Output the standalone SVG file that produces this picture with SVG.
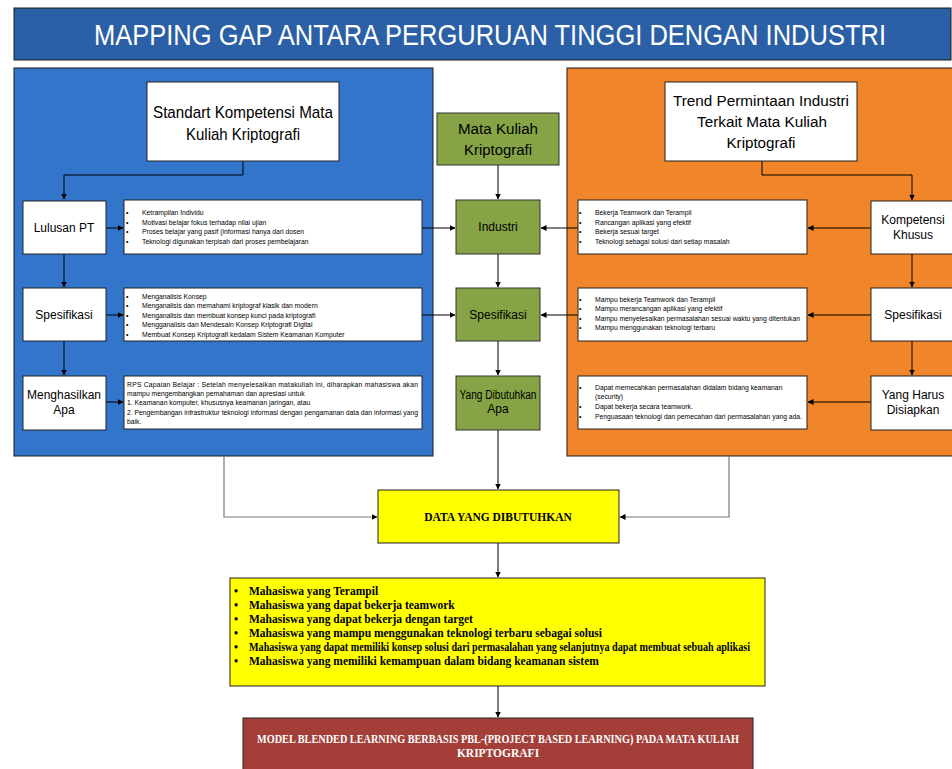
<svg xmlns="http://www.w3.org/2000/svg" width="952" height="769" viewBox="0 0 952 769">
<defs>
<marker id="ah" markerWidth="6" markerHeight="6" refX="5.5" refY="3" orient="auto" markerUnits="userSpaceOnUse">
<path d="M0,0 L6,3 L0,6 Z" fill="#000"/>
</marker>
<style>
.panel{stroke:#1a1a1a;stroke-width:1}
.wb{fill:#fff;stroke:#222;stroke-width:1}
.gb{fill:#86A445;stroke:#333;stroke-width:1}
.big{font-family:"Liberation Sans",Arial,sans-serif;fill:#000;text-anchor:middle}
.lbl{font-family:"Liberation Sans",Arial,sans-serif;font-size:12px;fill:#000;text-anchor:middle}
.sm{font-family:"Liberation Sans",Arial,sans-serif;font-size:6.8px;fill:#000}
.bul{font-family:"Liberation Sans",Arial,sans-serif;font-size:7px;fill:#000}
.yt{font-family:"Liberation Serif","Times New Roman",serif;font-weight:bold;font-size:11.5px;fill:#000}
.con{fill:none;stroke:#000;stroke-width:1}
.gcon{fill:none;stroke:#7a7a7a;stroke-width:1.2}
</style>
</defs>
<rect width="952" height="769" fill="#fff"/>

<g id="title">
<rect x="14" y="8" width="937" height="52" fill="#2B5FA6" stroke="#1a1a1a" stroke-width="1"/>
<g transform="translate(490,45) scale(0.86,1)">
<text x="0" y="0" font-family="'Liberation Sans',Arial,sans-serif" font-size="29" fill="#fff" text-anchor="middle" textLength="921" lengthAdjust="spacingAndGlyphs">MAPPING GAP ANTARA PERGURUAN TINGGI DENGAN INDUSTRI</text>
</g>
</g>

<g id="panel-left">
<rect class="panel" x="14" y="68" width="419" height="388" fill="#3375CB"/>
</g>
<g id="panel-right">
<rect class="panel" x="567" y="68" width="390" height="388" fill="#F0852A"/>
</g>

<g id="connectors">
<polyline class="con" points="243,161 243,175 64,175 64,199" marker-end="url(#ah)"/>
<line class="con" x1="106" y1="228" x2="123" y2="228" marker-end="url(#ah)"/>
<line class="con" x1="422" y1="228" x2="455" y2="228" marker-end="url(#ah)"/>
<line class="con" x1="64" y1="254" x2="64" y2="287" marker-end="url(#ah)"/>
<line class="con" x1="106" y1="315" x2="123" y2="315" marker-end="url(#ah)"/>
<line class="con" x1="422" y1="315" x2="455" y2="315" marker-end="url(#ah)"/>
<line class="con" x1="64" y1="341" x2="64" y2="375" marker-end="url(#ah)"/>
<line class="con" x1="106" y1="402" x2="123" y2="402" marker-end="url(#ah)"/>

<line class="con" x1="498" y1="165" x2="498" y2="199" marker-end="url(#ah)"/>
<line class="con" x1="498" y1="254" x2="498" y2="287" marker-end="url(#ah)"/>
<line class="con" x1="498" y1="341" x2="498" y2="375" marker-end="url(#ah)"/>
<line class="con" x1="498" y1="430" x2="498" y2="489" marker-end="url(#ah)"/>

<polyline class="con" points="762,161 762,175 912,175 912,200" marker-end="url(#ah)"/>
<line class="con" x1="871" y1="228" x2="808" y2="228" marker-end="url(#ah)"/>
<line class="con" x1="578" y1="228" x2="541" y2="228" marker-end="url(#ah)"/>
<line class="con" x1="912" y1="254" x2="912" y2="287" marker-end="url(#ah)"/>
<line class="con" x1="871" y1="315" x2="808" y2="315" marker-end="url(#ah)"/>
<line class="con" x1="578" y1="315" x2="541" y2="315" marker-end="url(#ah)"/>
<line class="con" x1="912" y1="341" x2="912" y2="375" marker-end="url(#ah)"/>
<line class="con" x1="871" y1="402" x2="808" y2="402" marker-end="url(#ah)"/>

<polyline class="gcon" points="224,456 224,517 377,517" marker-end="url(#ah)"/>
<polyline class="gcon" points="729,456 729,517 620,517" marker-end="url(#ah)"/>
<line class="con" x1="498" y1="543" x2="498" y2="577" marker-end="url(#ah)"/>
<line class="con" x1="498" y1="686" x2="498" y2="717" marker-end="url(#ah)"/>
</g>

<g id="standart-kompetensi">
<rect class="wb" x="147" y="82" width="192" height="79"/>
<text class="big" font-size="17" x="243" y="118" textLength="180" lengthAdjust="spacingAndGlyphs">Standart Kompetensi Mata</text>
<text class="big" font-size="17" x="243" y="140" textLength="114" lengthAdjust="spacingAndGlyphs">Kuliah Kriptografi</text>
</g>

<g id="lulusan-pt">
<rect class="wb" x="23" y="201" width="83" height="53"/>
<text class="lbl" x="64" y="232">Lulusan PT</text>
</g>
<g id="left-list-1">
<rect class="wb" x="124" y="200" width="298" height="54"/>
<g class="bul"><text x="126" y="215">•</text><text x="126" y="225">•</text><text x="126" y="234">•</text><text x="126" y="244">•</text></g>
<text class="sm" x="142" y="215">Ketrampilan Individu</text>
<text class="sm" x="142" y="225">Motivasi belajar fokus terhadap nilai ujian</text>
<text class="sm" x="142" y="234">Proses belajar yang pasif (informasi hanya dari dosen</text>
<text class="sm" x="142" y="244">Teknologi digunakan terpisah dari proses pembelajaran</text>
</g>

<g id="spesifikasi-left">
<rect class="wb" x="23" y="288" width="83" height="53"/>
<text class="lbl" x="64" y="319">Spesifikasi</text>
</g>
<g id="left-list-2">
<rect class="wb" x="124" y="288" width="298" height="53"/>
<g class="bul"><text x="126" y="299">•</text><text x="126" y="308">•</text><text x="126" y="318">•</text><text x="126" y="327">•</text><text x="126" y="337">•</text></g>
<text class="sm" x="142" y="299">Menganalisis Konsep</text>
<text class="sm" x="142" y="308">Menganalisis dan memahami kriptograf klasik dan modern</text>
<text class="sm" x="142" y="318">Menganalisis dan membuat konsep kunci pada kriptografi</text>
<text class="sm" x="142" y="327">Mengganalisis dan Mendesain Konsep Kriptografi Digital</text>
<text class="sm" x="142" y="337">Membuat Konsep Kriptografi kedalam Sistem Keamanan Komputer</text>
</g>

<g id="menghasilkan-apa">
<rect class="wb" x="23" y="376" width="83" height="54"/>
<text class="lbl" x="64" y="399">Menghasilkan</text>
<text class="lbl" x="64" y="414">Apa</text>
</g>
<g id="left-text-3">
<rect class="wb" x="124" y="376" width="298" height="53"/>
<text class="sm" x="127" y="387" textLength="291" lengthAdjust="spacing">RPS Capaian Belajar : Setelah menyelesaikan matakuliah ini, diharapkan mahasiswa akan</text>
<text class="sm" x="127" y="396">mampu mengembangkan pemahaman dan apresiasi untuk</text>
<text class="sm" x="127" y="405">1. Keamanan komputer, khususnya keamanan jaringan, atau</text>
<text class="sm" x="127" y="415" textLength="291" lengthAdjust="spacing">2. Pengembangan infrastruktur teknologi informasi dengan pengamanan data dan informasi yang</text>
<text class="sm" x="127" y="424">baik.</text>
</g>

<g id="mata-kuliah">
<rect class="gb" x="437" y="113" width="122" height="52"/>
<text class="big" font-size="15.5" x="498" y="134" textLength="80" lengthAdjust="spacingAndGlyphs">Mata Kuliah</text>
<text class="big" font-size="15.5" x="498" y="155" textLength="68" lengthAdjust="spacingAndGlyphs">Kriptografi</text>
</g>
<g id="industri">
<rect class="gb" x="456" y="200" width="84" height="54"/>
<text class="lbl" x="498" y="231" font-size="11">Industri</text>
</g>
<g id="spesifikasi-center">
<rect class="gb" x="456" y="288" width="84" height="53"/>
<text class="lbl" x="498" y="319" font-size="11">Spesifikasi</text>
</g>
<g id="yang-dibutuhkan-apa">
<rect class="gb" x="456" y="376" width="84" height="54"/>
<text class="lbl" x="498" y="399" font-size="11" textLength="77" lengthAdjust="spacingAndGlyphs">Yang Dibutuhkan</text>
<text class="lbl" x="498" y="413" font-size="11">Apa</text>
</g>

<g id="trend-permintaan">
<rect class="wb" x="665" y="82" width="192" height="79"/>
<text class="big" font-size="15.5" x="761" y="106" textLength="176" lengthAdjust="spacingAndGlyphs">Trend Permintaan Industri</text>
<text class="big" font-size="15.5" x="762" y="127" textLength="130" lengthAdjust="spacingAndGlyphs">Terkait Mata Kuliah</text>
<text class="big" font-size="15.5" x="761" y="148" textLength="69" lengthAdjust="spacingAndGlyphs">Kriptografi</text>
</g>
<g id="kompetensi-khusus">
<rect class="wb" x="871" y="201" width="90" height="53"/>
<text class="lbl" x="913" y="224">Kompetensi</text>
<text class="lbl" x="913" y="239">Khusus</text>
</g>
<g id="right-list-1">
<rect class="wb" x="578" y="200" width="229" height="54"/>
<g class="bul"><text x="579" y="215">•</text><text x="579" y="225">•</text><text x="579" y="234">•</text><text x="579" y="244">•</text></g>
<text class="sm" x="595" y="215">Bekerja Teamwork dan Terampil</text>
<text class="sm" x="595" y="225">Rancangan aplikasi yang efektif</text>
<text class="sm" x="595" y="234">Bekerja sesuai target</text>
<text class="sm" x="595" y="244">Teknologi sebagai solusi dari setiap masalah</text>
</g>
<g id="spesifikasi-right">
<rect class="wb" x="871" y="288" width="90" height="53"/>
<text class="lbl" x="913" y="319">Spesifikasi</text>
</g>
<g id="right-list-2">
<rect class="wb" x="578" y="288" width="229" height="53"/>
<g class="bul"><text x="579" y="302">•</text><text x="579" y="311">•</text><text x="579" y="321">•</text><text x="579" y="330">•</text></g>
<text class="sm" x="595" y="302">Mampu bekerja Teamwork dan Terampil</text>
<text class="sm" x="595" y="311">Mampu merancangan aplikasi yang efektif</text>
<text class="sm" x="595" y="321" textLength="205" lengthAdjust="spacingAndGlyphs">Mampu menyelesaikan permasalahan sesuai waktu yang ditentukan</text>
<text class="sm" x="595" y="330">Mampu menggunakan teknologi terbaru</text>
</g>
<g id="yang-harus-disiapkan">
<rect class="wb" x="871" y="376" width="90" height="54"/>
<text class="lbl" x="913" y="399">Yang Harus</text>
<text class="lbl" x="913" y="414">Disiapkan</text>
</g>
<g id="right-list-3">
<rect class="wb" x="578" y="376" width="229" height="53"/>
<g class="bul"><text x="579" y="390">•</text><text x="579" y="409">•</text><text x="579" y="419">•</text></g>
<text class="sm" x="595" y="390">Dapat memecahkan permasalahan didalam bidang keamanan</text>
<text class="sm" x="595" y="399">(security)</text>
<text class="sm" x="595" y="409">Dapat bekerja secara teamwork.</text>
<text class="sm" x="595" y="419" textLength="207" lengthAdjust="spacingAndGlyphs">Penguasaan teknologi dan pemecahan dari permasalahan yang ada.</text>
</g>

<g id="data-yang-dibutuhkan">
<rect x="378" y="490" width="241" height="53" fill="#FFFF00" stroke="#222" stroke-width="1"/>
<text class="yt" x="498" y="521" text-anchor="middle" font-size="10.5">DATA YANG DIBUTUHKAN</text>
</g>

<g id="mahasiswa-list">
<rect x="230" y="578" width="535" height="108" fill="#FFFF00" stroke="#222" stroke-width="1"/>
<g class="yt"><text x="234" y="595">•</text><text x="234" y="609">•</text><text x="234" y="623">•</text><text x="234" y="637">•</text><text x="234" y="651">•</text><text x="234" y="665">•</text></g>
<text class="yt" x="249" y="595">Mahasiswa yang Terampil</text>
<text class="yt" x="249" y="609">Mahasiswa yang dapat bekerja teamwork</text>
<text class="yt" x="249" y="623">Mahasiswa yang dapat bekerja dengan target</text>
<text class="yt" x="249" y="637">Mahasiswa yang mampu menggunakan teknologi terbaru sebagai solusi</text>
<text class="yt" x="249" y="651" textLength="501" lengthAdjust="spacingAndGlyphs">Mahasiswa yang dapat memiliki konsep solusi dari permasalahan yang selanjutnya dapat membuat sebuah aplikasi</text>
<text class="yt" x="249" y="665">Mahasiswa yang memiliki kemampuan dalam bidang keamanan sistem</text>
</g>

<g id="model-blended-learning">
<rect x="243" y="718" width="510" height="56" fill="#A33E38" stroke="#222" stroke-width="1"/>
<text class="yt" x="498" y="743" style="fill:#fff" text-anchor="middle" font-size="10.5" textLength="482" lengthAdjust="spacingAndGlyphs">MODEL BLENDED LEARNING BERBASIS PBL-(PROJECT BASED LEARNING) PADA MATA KULIAH</text>
<text class="yt" x="498" y="757" style="fill:#fff" text-anchor="middle" font-size="10.5">KRIPTOGRAFI</text>
</g>
</svg>
